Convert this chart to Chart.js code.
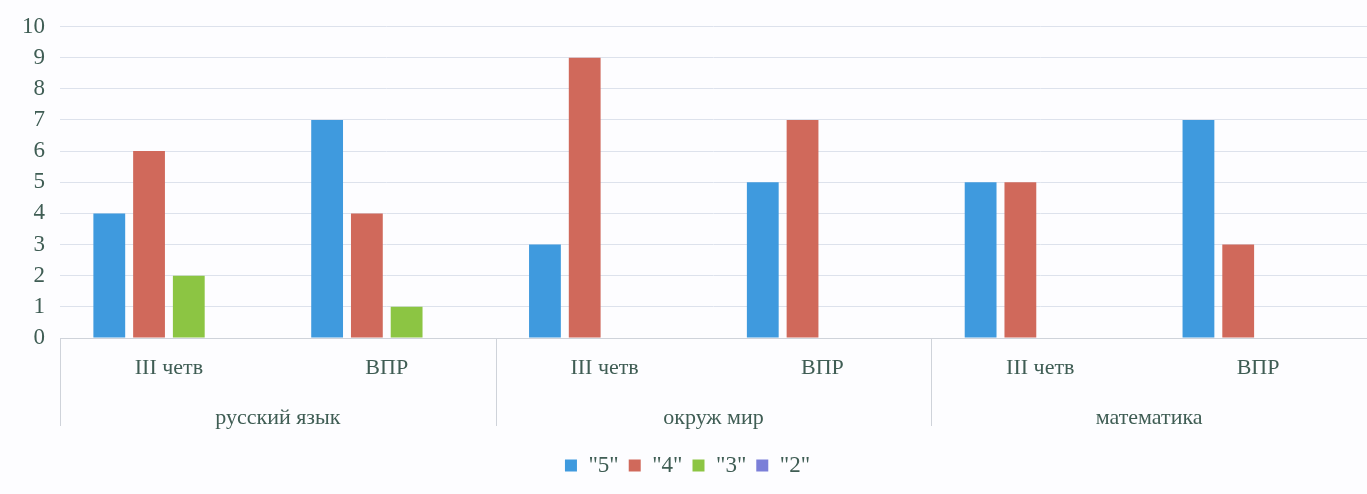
<!DOCTYPE html>
<html>
<head>
<meta charset="utf-8">
<script src="https://cdn.jsdelivr.net/npm/chart.js@4/dist/chart.umd.min.js"></script>
<style>
  html, body { margin: 0; padding: 0; background: #fdfdff; overflow: hidden; }
  #wrap { width: 1367px; height: 494px; }
</style>
</head>
<body>
<div id="wrap"><canvas id="c"></canvas></div>
<script>
const periods = ["III четв", "ВПР", "III четв", "ВПР", "III четв", "ВПР"];
const subjects = ["русский язык", "окруж мир", "математика"];
const yTicks = [0, 1, 2, 3, 4, 5, 6, 7, 8, 9, 10];

const grade5 = [4, 7, 3, 5, 5, 7];
const grade4 = [6, 4, 9, 7, 5, 3];
const grade3 = [2, 1, null, null, null, null];
const grade2 = [null, null, null, null, null, null];

const textColor = "#3f5d54";
const serif = "'Liberation Serif', 'Times New Roman', serif";

// vertical separators between subject groups, under the axis
const separators = {
    id: "separators",
    afterDraw(chart) {
        const x = chart.scales.x;
        const x2 = chart.scales.x2;
        const ctx = chart.ctx;
        ctx.save();
        ctx.strokeStyle = "#cfd3da";
        ctx.lineWidth = 1;
        for (let i = 0; i <= subjects.length; i++) {
            const px = Math.round(x.getPixelForValue(i * 2 - 0.5)) + 0.5;
            ctx.beginPath();
            ctx.moveTo(px, chart.chartArea.bottom);
            ctx.lineTo(px, x2.bottom - 18);
            ctx.stroke();
        }
        ctx.restore();
    }
};

new Chart(document.getElementById("c"), {
    type: "bar",
    data: {
        labels: periods,
        datasets: [
            { label: '"5"', data: grade5, backgroundColor: "#3f9ade" },
            { label: '"4"', data: grade4, backgroundColor: "#d0695b" },
            { label: '"3"', data: grade3, backgroundColor: "#8cc543" },
            { label: '"2"', data: grade2, backgroundColor: "#7b7fd8" }
        ]
    },
    options: {
        responsive: true,
        maintainAspectRatio: false,
        animation: false,
        layout: { padding: { top: 10, right: 0, left: 8, bottom: 7 } },
        datasets: {
            bar: { barPercentage: 0.8, categoryPercentage: 0.73 }
        },
        plugins: {
            legend: {
                position: "bottom",
                labels: {
                    font: { family: serif, size: 23 },
                    color: textColor,
                    boxWidth: 12,
                    boxHeight: 12,
                    padding: 10
                }
            },
            tooltip: { enabled: false }
        },
        scales: {
            y: {
                min: 0,
                max: 10,
                afterBuildTicks: s => { s.ticks = yTicks.map(v => ({ value: v })); },
                grid: { color: "#dde2ec", drawTicks: false },
                border: { display: false },
                ticks: {
                    font: { family: serif, size: 23, lineHeight: 1 },
                    color: textColor,
                    padding: 15
                },
                afterFit: s => { s.width = 52; }
            },
            x: {
                grid: { display: false },
                border: { display: true, color: "#cfd3da" },
                ticks: {
                    font: { family: serif, size: 22 },
                    color: textColor,
                    padding: 9,
                    maxRotation: 0
                },
                afterFit: s => { s.height = 55; }
            },
            x2: {
                type: "category",
                labels: subjects,
                position: "bottom",
                grid: { display: false },
                border: { display: false },
                ticks: {
                    font: { family: serif, size: 22 },
                    color: textColor,
                    padding: 4,
                    maxRotation: 0
                },
                afterFit: s => { s.height = 51; }
            }
        }
    },
    plugins: [separators]
});
</script>
</body>
</html>
